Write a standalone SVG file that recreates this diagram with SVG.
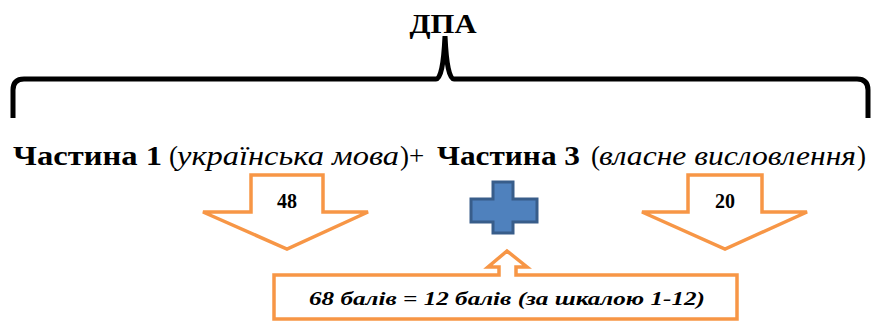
<svg xmlns="http://www.w3.org/2000/svg" width="878" height="322" viewBox="0 0 878 322">
<style>
.t{font-family:"Liberation Serif","Times New Roman",serif;fill:#000}
.b{font-weight:bold}
.i{font-style:italic}
.arr{fill:#fff;stroke:#F79646;stroke-width:3.5;stroke-linejoin:miter}
</style>
<rect width="878" height="322" fill="#fff"/>
<g id="title">
<text class="t b" x="443" y="33" font-size="28" text-anchor="middle" textLength="67" lengthAdjust="spacingAndGlyphs">ДПА</text>
</g>
<g id="brace">
<path d="M13,118 L13,90 Q13,79 24,79 L436,79 Q443,79 445,36 Q447,79 454,79 L857,79 Q868,79 868,90 L868,118" fill="none" stroke="#000" stroke-width="5"/>
</g>
<g id="parts">
<text class="t b" x="13" y="165" font-size="28" textLength="149" lengthAdjust="spacingAndGlyphs">Частина 1</text>
<text class="t" x="169" y="165" font-size="27">(</text>
<text class="t i" x="177" y="165" font-size="27" textLength="222" lengthAdjust="spacingAndGlyphs">українська мова</text>
<text class="t" x="400" y="165" font-size="27">)+</text>
<text class="t b" x="437" y="165" font-size="28" textLength="143" lengthAdjust="spacingAndGlyphs">Частина 3</text>
<text class="t" x="591" y="165" font-size="27">(</text>
<text class="t i" x="599" y="165" font-size="27" textLength="257" lengthAdjust="spacingAndGlyphs">власне висловлення</text>
<text class="t" x="857" y="165" font-size="27">)</text>
</g>
<g id="arrow48">
<path class="arr" d="M251,175 L323,175 L323,212 L368,212 L287,249 L203,212 L251,212 Z"/>
<text class="t b" x="287" y="208" font-size="20" text-anchor="middle">48</text>
</g>
<g id="plus">
<path d="M493,182 L513,182 L513,199 L537,199 L537,222 L513,222 L513,233 L493,233 L493,222 L471,222 L471,199 L493,199 Z" fill="#4F81BD" stroke="#385D8A" stroke-width="3"/>
</g>
<g id="arrow20">
<path class="arr" d="M688,175 L762,175 L762,212 L807,212 L725,249 L642,212 L688,212 Z"/>
<text class="t b" x="725" y="208" font-size="20" text-anchor="middle">20</text>
</g>
<g id="callout">
<path class="arr" d="M274,275 L499,275 L499,267 L488,267 L507,251 L527,267 L516,267 L516,275 L737,275 L737,319 L274,319 Z"/>
<text class="t b i" x="507" y="305" font-size="19" text-anchor="middle" textLength="396" lengthAdjust="spacingAndGlyphs">68 балів = 12 балів (за шкалою 1-12)</text>
</g>
</svg>
